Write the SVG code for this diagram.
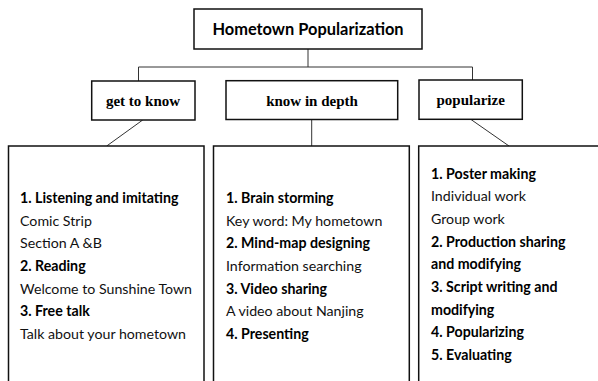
<svg xmlns="http://www.w3.org/2000/svg" width="598" height="381" viewBox="0 0 598 381">
<style>
.box{fill:#fff;stroke:#111;stroke-width:1.5}
.conn{fill:none;stroke:#333;stroke-width:1}
.title{font-family:Lato,"Liberation Sans",sans-serif;font-weight:bold;font-size:16.4px;fill:#000;text-anchor:middle}
.sub{font-family:"Liberation Serif","Times New Roman",serif;font-weight:bold;font-size:15px;fill:#000;text-anchor:middle}
.t{font-family:Lato,"Liberation Sans",sans-serif;font-size:14.2px;fill:#111}
.b{font-weight:bold;fill:#000}
</style>
<rect width="598" height="381" fill="#fff"/>
<g id="connectors">
<path class="conn" d="M308 49V67M138.5 81V67H472.5V80"/>
<path class="conn" d="M142.7 120L106.7 146"/>
<path class="conn" d="M311.7 119.5V146"/>
<path class="conn" d="M471 119.5L509 146"/>
</g>
<g id="title">
<rect class="box" x="194" y="9" width="228" height="40"/>
<text class="title" x="308" y="35">Hometown Popularization</text>
</g>
<g id="get-to-know">
<rect class="box" x="91.7" y="81" width="103.3" height="39"/>
<text class="sub" x="143" y="105.5">get to know</text>
</g>
<g id="know-in-depth">
<rect class="box" x="226" y="80.7" width="171.7" height="38.8"/>
<text class="sub" x="312" y="105.5">know in depth</text>
</g>
<g id="popularize">
<rect class="box" x="419" y="80" width="103.3" height="39.3"/>
<text class="sub" x="470.7" y="104.5">popularize</text>
</g>
<g id="panel-get-to-know">
<rect class="box" x="8.5" y="146" width="195.5" height="250"/>
<text class="t b" x="20" y="203">1. Listening and imitating</text>
<text class="t" x="20" y="225.7">Comic Strip</text>
<text class="t" x="20" y="248.3">Section A &amp;B</text>
<text class="t b" x="20" y="271">2. Reading</text>
<text class="t" x="20" y="293.7">Welcome to Sunshine Town</text>
<text class="t b" x="20" y="316.3">3. Free talk</text>
<text class="t" x="20" y="339">Talk about your hometown</text>
</g>
<g id="panel-know-in-depth">
<rect class="box" x="213.5" y="146" width="195.8" height="250"/>
<text class="t b" x="226" y="203">1. Brain storming</text>
<text class="t" x="226" y="225.7">Key word: My hometown</text>
<text class="t b" x="226" y="248.3">2. Mind-map designing</text>
<text class="t" x="226" y="271">Information searching</text>
<text class="t b" x="226" y="293.7">3. Video sharing</text>
<text class="t" x="226" y="316.3">A video about Nanjing</text>
<text class="t b" x="226" y="339">4. Presenting</text>
</g>
<g id="panel-popularize">
<rect class="box" x="418.7" y="146" width="200" height="250"/>
<text class="t b" x="431" y="178.6">1. Poster making</text>
<text class="t" x="431" y="201.3">Individual work</text>
<text class="t" x="431" y="223.9">Group work</text>
<text class="t b" x="431" y="246.6">2. Production sharing</text>
<text class="t b" x="431" y="269.3">and modifying</text>
<text class="t b" x="431" y="291.9">3. Script writing and</text>
<text class="t b" x="431" y="314.6">modifying</text>
<text class="t b" x="431" y="337.3">4. Popularizing</text>
<text class="t b" x="431" y="360">5. Evaluating</text>
</g>
</svg>
